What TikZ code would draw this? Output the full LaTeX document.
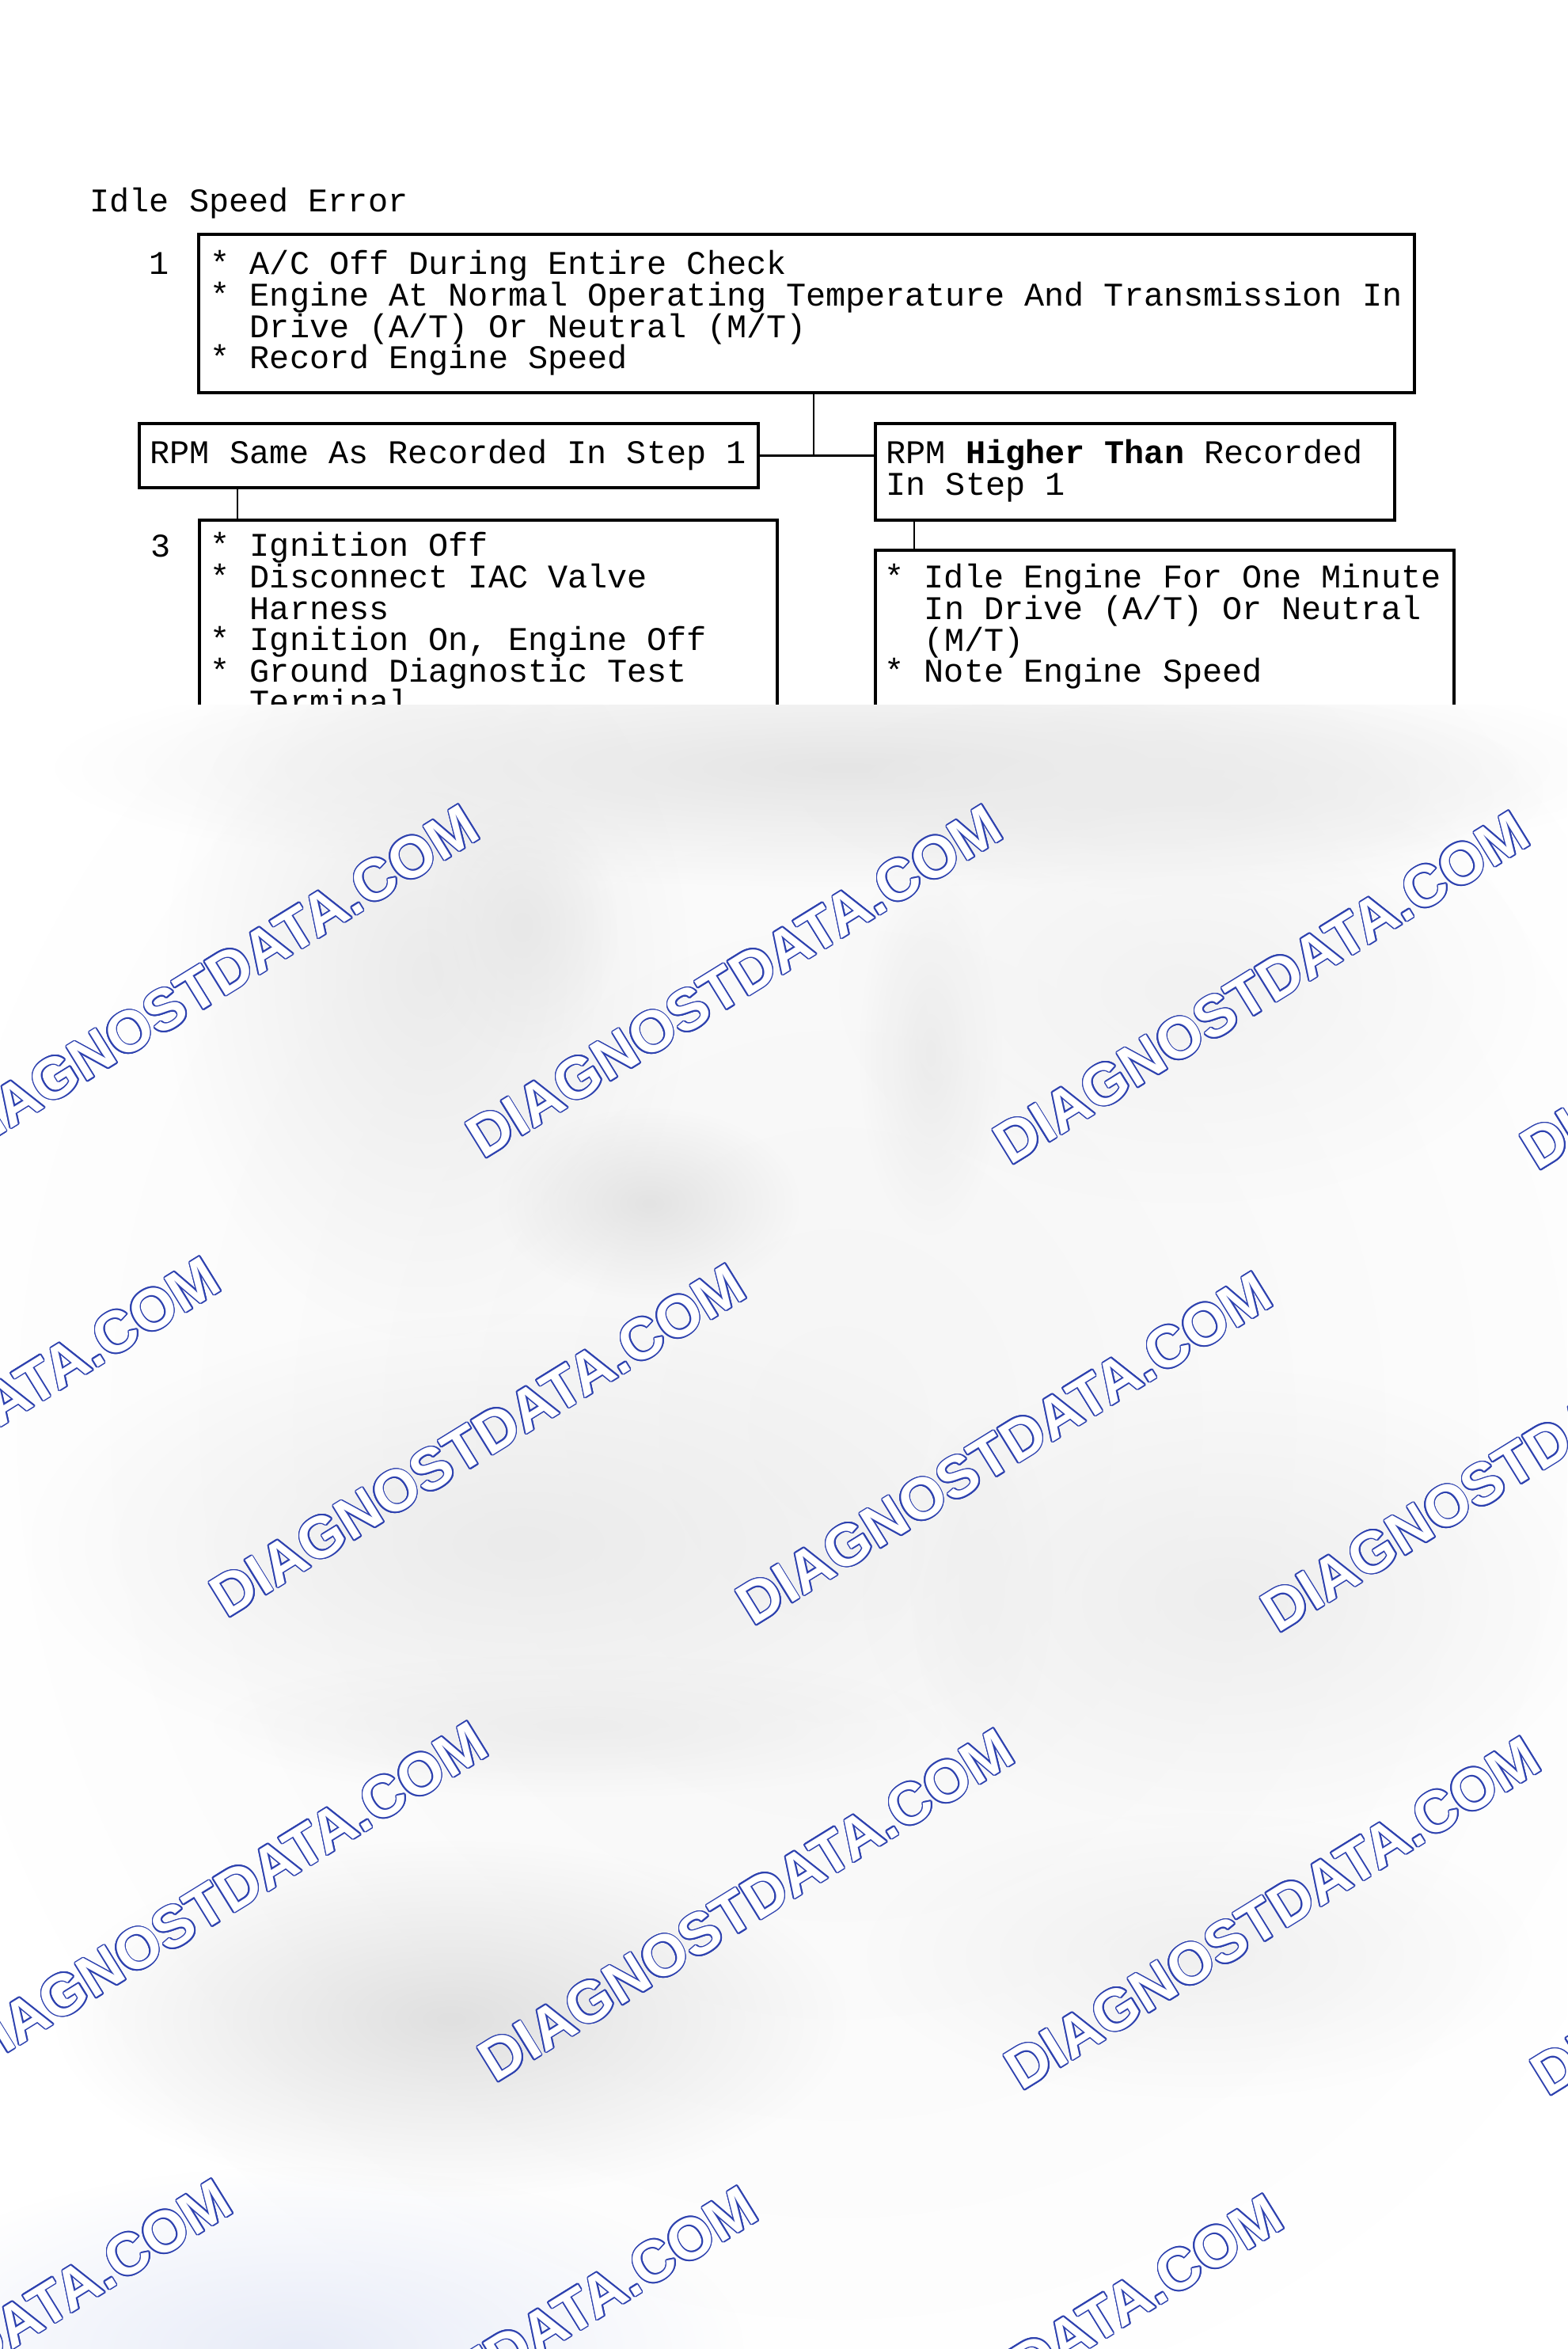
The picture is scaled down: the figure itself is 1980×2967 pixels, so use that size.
\documentclass[tikz,border=0pt]{standalone}
\usepackage{fontspec}
\setmonofont{Liberation Mono}
\newfontfamily\wmfont{Liberation Sans}
\usepackage{contour}
\usetikzlibrary{fadings}
\definecolor{wmblue}{RGB}{45,65,175}
\definecolor{tint}{RGB}{232,236,248}
\contourlength{0.45pt}
\newcommand\diagfont{\ttfamily\fontsize{11.9pt}{11.27pt}\selectfont\frenchspacing}
\newcommand\topstrut{\rule{0pt}{10pt}}
\newcommand\bul{*\ }
\newcommand\ind{\hphantom{\bul}}
\setlength{\lineskiplimit}{-100pt}
\tikzfading[name=blob, inner color=transparent!0, outer color=transparent!100]

\begin{document}
\begin{tikzpicture}[x=0.1mm, y=-0.1mm,
  frame/.style={draw, line width=1pt, anchor=north west, inner sep=0pt},
  txt/.style={font=\diagfont, anchor=north west, inner sep=0pt, align=left},
  lbl/.style={font=\diagfont, anchor=base west, inner sep=0pt},
  link/.style={line width=0.7pt},
  wmark/.style={font=\wmfont\bfseries\fontsize{21pt}{21pt}\selectfont, text=white, rotate=31.7, inner sep=0pt}]
  \useasboundingbox (0,0) rectangle (1980,2967);

  % Titulo y numeros de paso
  \node[lbl] (title) at (113,267) {Idle Speed Error};
  \node[lbl] (num1) at (188,346) {1};
  \node[lbl] (num3) at (190,703) {3};

  % Cajas
  \node[frame, minimum width=153.6mm, minimum height=20mm] (box1) at (249,294) {};
  \node[frame, minimum width=78.2mm, minimum height=8.1mm] (sameBox) at (174,533) {};
  \node[frame, minimum width=65.6mm, minimum height=12.2mm] (higherBox) at (1104,533) {};
  \node[frame, minimum width=73mm, minimum height=40mm] (box3) at (250,655) {};
  \node[frame, minimum width=73.1mm, minimum height=36mm] (idleBox) at (1104,693) {};

  % Textos de las cajas
  \node[txt] (box1Txt) at (265,311) {\topstrut\bul A/C Off During Entire Check\\
    \bul Engine At Normal Operating Temperature And Transmission In\\
    \ind Drive (A/T) Or Neutral (M/T)\\
    \bul Record Engine Speed};
  \node[txt] (sameTxt) at (189,550) {\topstrut RPM Same As Recorded In Step 1};
  \node[txt] (higherTxt) at (1119,550) {\topstrut RPM \textbf{Higher Than} Recorded\\In Step 1};
  \node[txt] (box3Txt) at (265,667) {\topstrut\bul Ignition Off\\
    \bul Disconnect IAC Valve\\
    \ind Harness\\
    \bul Ignition On, Engine Off\\
    \bul Ground Diagnostic Test\\
    \ind Terminal};
  \node[txt] (idleTxt) at (1117,707) {\topstrut\bul Idle Engine For One Minute\\
    \ind In Drive (A/T) Or Neutral\\
    \ind (M/T)\\
    \bul Note Engine Speed};

  % Conexiones
  \coordinate (trunk) at (1028,0);
  \coordinate (leftDrop) at (300,0);
  \coordinate (rightDrop) at (1155,0);
  \draw[link] (trunk |- box1.south) -- (trunk |- sameBox.east);
  \draw[link] (sameBox.east) -- (sameBox.east -| higherBox.west);
  \draw[link] (leftDrop |- sameBox.south) -- (leftDrop |- box3.north);
  \draw[link] (rightDrop |- higherBox.south) -- (rightDrop |- idleBox.north);

  % Zona borrosa
  \begin{scope}
    \clip (0,890) rectangle (1980,2967);
    \fill[white] (0,890) rectangle (1980,2967);
    \fill[gray!8, path fading=blob] (1060,1800) ellipse [x radius=1150, y radius=1250];
    \foreach \cx/\cy/\rx/\ry/\tone in {1070/970/1000/150/20, 540/1230/330/460/16,
        660/1170/120/160/18, 1480/1000/470/130/16, 1176/1330/90/230/16,
        1500/1250/440/270/10, 820/1520/190/120/22, 660/1950/620/290/16,
        730/2180/460/90/14, 1550/2020/460/290/13, 1240/2000/90/210/12,
        570/2550/500/225/24, 1515/2470/420/180/12}
      \fill[gray!\tone, path fading=blob] (\cx,\cy) ellipse [x radius=\rx, y radius=\ry];
    \fill[tint, path fading=blob] (380,2967) ellipse [x radius=560, y radius=230];
  \end{scope}

  % Marcas de agua
  \begin{scope}
    \clip (0,0) rectangle (1980,2967);
    \foreach \cx/\cy [count=\k] in {267/1240, 928/1240, 1594/1248, 2260/1255,
        -60/1811, 604/1820, 1269/1830, 1932/1839,
        278/2398, 943/2407, 1608/2417, 2273/2424,
        -45/2976, 619/2985, 1283/2995}
      \node[wmark] (wm\k) at (\cx,\cy) {\contour{wmblue}{DIAGNOSTDATA.COM}};
  \end{scope}
\end{tikzpicture}
\end{document}
